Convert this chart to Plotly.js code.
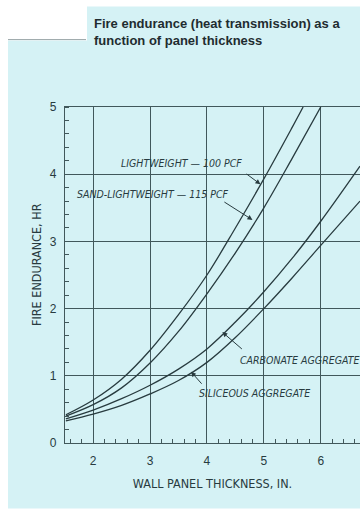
<!DOCTYPE html>
<html>
<head>
<meta charset="utf-8">
<script src="https://cdn.plot.ly/plotly-3.0.1.min.js"></script>
<style>
html,body{margin:0;padding:0;background:#ffffff;}
#chart{width:360px;height:512px;}
</style>
</head>
<body>
<div id="chart"></div>
<script>
// ---- data ----
const lightweightX = [1.52, 2.0, 2.5, 3.0, 3.5, 4.0, 4.5, 5.0, 5.5, 5.69];
const lightweightY = [0.42, 0.64, 0.95, 1.38, 1.91, 2.50, 3.20, 3.93, 4.70, 5.0];

const sandLightX = [1.52, 2.0, 2.5, 3.0, 3.5, 4.0, 4.5, 5.0, 5.5, 6.0];
const sandLightY = [0.40, 0.57, 0.82, 1.19, 1.66, 2.22, 2.83, 3.50, 4.24, 5.0];

const carbonateX = [1.52, 2.0, 2.5, 3.0, 3.5, 4.0, 4.5, 5.0, 5.5, 6.0, 6.69];
const carbonateY = [0.36, 0.49, 0.66, 0.86, 1.10, 1.40, 1.80, 2.25, 2.75, 3.30, 4.12];

const siliceousX = [1.52, 2.0, 2.5, 3.0, 3.5, 4.0, 4.5, 5.0, 5.5, 6.0, 6.69];
const siliceousY = [0.33, 0.43, 0.56, 0.73, 0.93, 1.20, 1.57, 2.00, 2.46, 2.94, 3.60];

const seriesNames = ['LIGHTWEIGHT — 100 PCF', 'SAND-LIGHTWEIGHT — 115 PCF', 'CARBONATE AGGREGATE', 'SILICEOUS AGGREGATE'];
const xTickVals = [2, 3, 4, 5, 6];
const yTickVals = [0, 1, 2, 3, 4, 5];

const titleText = 'Fire endurance (heat transmission) as a<br>function of panel thickness';
const xTitle = 'WALL PANEL THICKNESS, IN.';
const yTitle = 'FIRE ENDURANCE, HR';

// ---- styling ----
const ink = '#283b3f';
const gridCol = '#41585b';
const cyan = '#d5f2f5';
const narrow = '"Liberation Sans Narrow", "DejaVu Sans Condensed", Arial, sans-serif';
const sans = '"Liberation Sans", Arial, Helvetica, sans-serif';

function curve(x, y, name) {
  return {
    x: x, y: y, name: name, type: 'scatter', mode: 'lines',
    line: {color: ink, width: 1.3, shape: 'spline', smoothing: 1},
    hoverinfo: 'skip', showlegend: false
  };
}

const data = [
  curve(lightweightX, lightweightY, seriesNames[0]),
  curve(sandLightX, sandLightY, seriesNames[1]),
  curve(carbonateX, carbonateY, seriesNames[2]),
  curve(siliceousX, siliceousY, seriesNames[3])
];

// pixel -> paper helpers for page-level decoration and text placement
const L = 65, R = 360, T = 107.3, B = 442.7;
const px = v => (v - L) / (R - L);
const py = v => (B - v) / (B - T);

function label(text, x, y, anchor) {
  return {text: text, x: x, y: y, xref: 'x', yref: 'y', showarrow: false,
          xanchor: anchor || 'center', yanchor: 'middle',
          font: {family: narrow, size: 10.5, color: ink, style: 'italic'}};
}
function pointer(x, y, ax, ay) {
  return {text: '', x: x, y: y, ax: ax, ay: ay, xref: 'x', yref: 'y', axref: 'x', ayref: 'y',
          showarrow: true, arrowhead: 2, arrowsize: 1, arrowwidth: 1, arrowcolor: ink, standoff: 0};
}

const annotations = [
  {text: titleText, xref: 'paper', yref: 'paper', x: px(92), y: py(14), xanchor: 'left', yanchor: 'top',
   align: 'left', showarrow: false, font: {family: sans, size: 13, color: '#1f2c30', weight: 'bold'}},
  {text: yTitle, xref: 'paper', yref: 'paper', x: px(37), y: py(265), xanchor: 'center', yanchor: 'middle',
   textangle: -90, showarrow: false, font: {family: narrow, size: 12.5, color: ink}},
  label(seriesNames[0], 3.55, 4.17),
  label(seriesNames[1], 3.06, 3.71),
  label(seriesNames[2], 5.63, 1.23),
  label(seriesNames[3], 4.84, 0.74),
  pointer(4.94, 3.85, 4.67, 4.02),
  pointer(4.80, 3.32, 4.28, 3.60),
  pointer(4.27, 1.65, 4.64, 1.38),
  pointer(3.72, 1.06, 3.93, 0.86)
];

const shapes = [
  {type: 'rect', xref: 'paper', yref: 'paper', x0: px(8), x1: px(362), y0: py(508), y1: py(41), fillcolor: cyan, line: {width: 0}, layer: 'below'},
  {type: 'rect', xref: 'paper', yref: 'paper', x0: px(87), x1: px(362), y0: py(41.5), y1: py(7), fillcolor: cyan, line: {width: 0}, layer: 'below'},
  {type: 'line', xref: 'paper', yref: 'paper', x0: px(8), x1: px(86), y0: py(40), y1: py(40), line: {color: '#9aa5a8', width: 1}}
];

const layout = {
  width: 360, height: 512,
  margin: {l: 65, r: 0, t: 107, b: 69, pad: 0},
  paper_bgcolor: '#ffffff',
  plot_bgcolor: cyan,
  showlegend: false,
  hovermode: false,
  xaxis: {
    range: [1.505, 6.69], tickvals: xTickVals, ticktext: xTickVals.map(String),
    showgrid: true, gridcolor: gridCol, gridwidth: 1,
    zeroline: false, showline: true, linecolor: gridCol, linewidth: 1.2, mirror: true,
    ticks: '', ticklabelstandoff: 6,
    minor: {dtick: 0.2, tick0: 0, ticks: 'inside', ticklen: 4, tickcolor: gridCol, tickwidth: 1, showgrid: false},
    tickfont: {family: sans, size: 12, color: ink},
    title: {text: xTitle, standoff: 12, font: {family: narrow, size: 12.5, color: ink}},
    fixedrange: true
  },
  yaxis: {
    range: [0, 5], tickvals: yTickVals, ticktext: yTickVals.map(String),
    showgrid: true, gridcolor: gridCol, gridwidth: 1,
    zeroline: false, showline: true, linecolor: gridCol, linewidth: 1.2,
    ticks: '', ticklabelstandoff: 5,
    minor: {dtick: 0.2, tick0: 0, ticks: 'inside', ticklen: 4, tickcolor: gridCol, tickwidth: 1, showgrid: false},
    tickfont: {family: sans, size: 12, color: ink},
    fixedrange: true
  },
  annotations: annotations,
  shapes: shapes
};

Plotly.newPlot('chart', data, layout, {displayModeBar: false, staticPlot: true});
</script>
</body>
</html>
